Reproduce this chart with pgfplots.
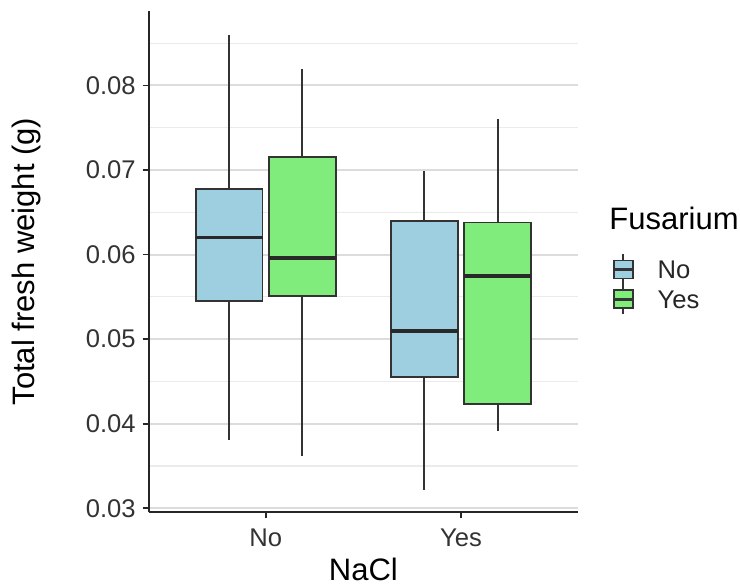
\documentclass[border=0pt]{standalone}
\usepackage{pgfplots}
\pgfplotsset{compat=1.18}
\usepackage{fontspec}
\setmainfont{Liberation Sans}
\definecolor{bluefill}{HTML}{9ECFE0}
\definecolor{greenfill}{HTML}{80EC7C}
\definecolor{boxline}{HTML}{333333}
\definecolor{majgrid}{HTML}{DCDCDC}
\definecolor{mingrid}{HTML}{EBEBEB}
\pgfplotsset{
  whisk/.style={boxline, line width=1pt, forget plot, mark=none},
  boxb/.style={fill=#1, draw=boxline, line width=0.9pt, forget plot, mark=none},
  med/.style={boxline!80!black, line width=1.8pt, forget plot, mark=none},
}
\begin{document}
\begin{tikzpicture}
\useasboundingbox (0pt,0pt) rectangle (370pt,292.5pt);
\begin{axis}[
  at={(74.35pt,36.35pt)}, anchor=south west,
  scale only axis, width=214.65pt, height=250.65pt,
  xmin=0.4, xmax=2.6, ymin=0.02953, ymax=0.0888,
  axis x line*=bottom, axis y line*=left,
  axis line style={-, black!85, line width=0.9pt},
  xtick={1,2}, xticklabels={No,Yes},
  ytick={0.03,0.04,0.05,0.06,0.07,0.08},
  minor ytick={0.035,0.045,0.055,0.065,0.075,0.085},
  scaled y ticks=false,
  ymajorgrids, yminorgrids,
  major grid style={majgrid, line width=1pt},
  minor grid style={mingrid, line width=0.6pt},
  tick align=outside, major tick length=3pt, minor tick length=0pt,
  tick style={black!85, line width=0.9pt},
  /pgf/number format/assume math mode=true,
  yticklabel style={/pgf/number format/.cd, fixed, fixed zerofill, precision=2},
  xticklabel style={yshift=-2pt},
  tick label style={font=\fontsize{12.8}{15}\selectfont, text=black!80},
  xlabel={NaCl}, ylabel={Total fresh weight (g)},
  label style={font=\fontsize{15.5}{18}\selectfont},
  xlabel style={at={(axis description cs:0.5,-0.1138)}, anchor=center},
  ylabel style={at={(axis description cs:-0.2840,0.5)}, anchor=center},
  clip=false,
  legend style={at={(axis description cs:1.079,0.517)}, anchor=north west,
    draw=none, fill=none, inner sep=0pt, row sep=-1pt,
    font=\fontsize{12.8}{15}\selectfont, text=black!85,
    nodes={inner sep=0pt, anchor=base west, text depth=0pt}},
  legend cell align=left,
]
% NaCl = No, Fusarium = No
\addplot[whisk] coordinates {(0.8125,0.0381) (0.8125,0.0860)};
\addplot[boxb=bluefill] coordinates {(0.6415,0.0545) (0.9835,0.0545) (0.9835,0.0678) (0.6415,0.0678)} -- cycle;
\addplot[med] coordinates {(0.6415,0.0620) (0.9835,0.0620)};
% NaCl = No, Fusarium = Yes
\addplot[whisk] coordinates {(1.1875,0.0362) (1.1875,0.0820)};
\addplot[boxb=greenfill] coordinates {(1.0165,0.0551) (1.3585,0.0551) (1.3585,0.0715) (1.0165,0.0715)} -- cycle;
\addplot[med] coordinates {(1.0165,0.0596) (1.3585,0.0596)};
% NaCl = Yes, Fusarium = No
\addplot[whisk] coordinates {(1.8125,0.0322) (1.8125,0.0699)};
\addplot[boxb=bluefill] coordinates {(1.6415,0.0455) (1.9835,0.0455) (1.9835,0.0640) (1.6415,0.0640)} -- cycle;
\addplot[med] coordinates {(1.6415,0.0510) (1.9835,0.0510)};
% NaCl = Yes, Fusarium = Yes
\addplot[whisk] coordinates {(2.1875,0.0391) (2.1875,0.0760)};
\addplot[boxb=greenfill] coordinates {(2.0165,0.0423) (2.3585,0.0423) (2.3585,0.0638) (2.0165,0.0638)} -- cycle;
\addplot[med] coordinates {(2.0165,0.0575) (2.3585,0.0575)};
\addlegendimage{legend image code/.code={
  \draw[boxline, line width=0.9pt] (4.75pt,-3pt) -- (4.75pt,12pt);
  \draw[fill=bluefill, draw=boxline, line width=0.9pt] (0pt,0pt) rectangle (9.5pt,9pt);
  \draw[boxline, line width=1.4pt] (0pt,4.5pt) -- (9.5pt,4.5pt);
  \path[draw=none, fill=none, use as bounding box] (0pt,-3pt) rectangle (22pt,12pt);}}
\addlegendentry{No}
\addlegendimage{legend image code/.code={
  \draw[boxline, line width=0.9pt] (4.75pt,-3pt) -- (4.75pt,12pt);
  \draw[fill=greenfill, draw=boxline, line width=0.9pt] (0pt,0pt) rectangle (9.5pt,9pt);
  \draw[boxline, line width=1.4pt] (0pt,4.5pt) -- (9.5pt,4.5pt);
  \path[draw=none, fill=none, use as bounding box] (0pt,-3pt) rectangle (22pt,12pt);}}
\addlegendentry{Yes}
\end{axis}
\node[anchor=base west, inner sep=0pt, font=\fontsize{15.5}{18}\selectfont] at (304.5pt,177.5pt) {Fusarium};
\end{tikzpicture}
\end{document}
